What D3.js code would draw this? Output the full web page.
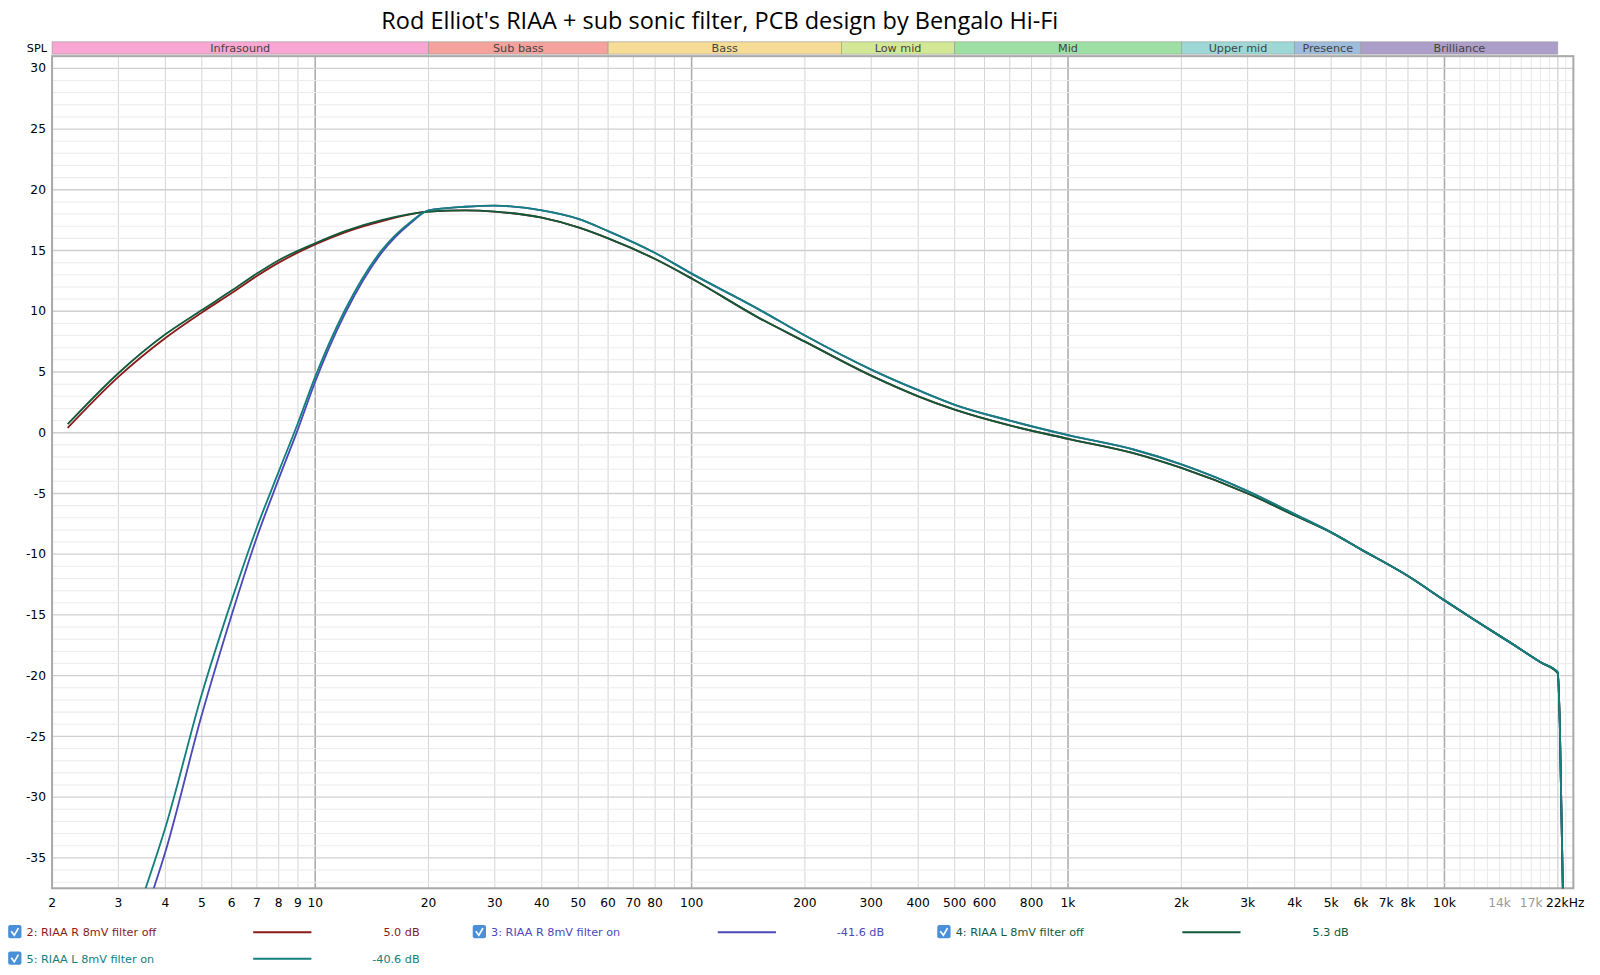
<!DOCTYPE html><html><head><meta charset="utf-8"><script src="https://d3js.org/d3.v7.min.js"></script>
<style>body{margin:0;background:#fff;font-family:"DejaVu Sans",sans-serif}</style></head><body><svg id="c" width="1600" height="975"></svg><script>
const title="Rod Elliot's RIAA + sub sonic filter, PCB design by Bengalo Hi-Fi";
const bandNames=["Infrasound","Sub bass","Bass","Low mid","Mid","Upper mid","Presence","Brilliance"];
const bandEdges=[2,20,60,250,500,2000,4000,6000,20000];
const bandColors=["#f9a6d2","#f6a29c","#f7dc98","#d2e894","#9ee0a4","#9ed8d6","#9ebcdc","#ac9ec8"];
const xTicks=[2,3,4,5,6,7,8,9,10,20,30,40,50,60,70,80,100,200,300,400,500,600,800,1000,2000,3000,4000,5000,6000,7000,8000,10000,14000,17000,22000];
const xTickLabels=["2","3","4","5","6","7","8","9","10","20","30","40","50","60","70","80","100","200","300","400","500","600","800","1k","2k","3k","4k","5k","6k","7k","8k","10k","14k","17k","22kHz"];
const yTicks=[30,25,20,15,10,5,0,-5,-10,-15,-20,-25,-30,-35];
const freqOff=[2.2,3,4,5,6,7,8,10,12,15,20,25,30,40,50,60,80,100,150,200,300,400,500,700,1000,1500,2000,3000,4000,5000,6000,8000,10000,12000,15000,18000,20000,20250,20700];
const redOff=[0.4,4.6,7.8,9.9,11.5,12.9,14.0,15.5,16.5,17.4,18.2,18.3,18.2,17.7,16.9,16.0,14.3,12.7,9.5,7.5,4.7,3.0,1.9,0.6,-0.5,-1.7,-2.9,-5.0,-6.8,-8.2,-9.6,-11.8,-13.8,-15.4,-17.3,-18.9,-19.8,-24,-40];
const greenOff=[0.7,4.9,8.1,10.1,11.7,13.1,14.2,15.6,16.6,17.5,18.2,18.3,18.2,17.7,16.9,16.0,14.3,12.7,9.5,7.5,4.7,3.0,1.9,0.6,-0.5,-1.7,-2.9,-5.0,-6.8,-8.2,-9.6,-11.8,-13.8,-15.4,-17.3,-18.9,-19.8,-24,-40];
const freqOn=[3.5,4,5,6,7,8,9,10,12,15,18,20,25,30,40,50,60,80,100,150,200,300,400,500,700,1000,1500,2000,3000,4000,5000,6000,8000,10000,12000,15000,18000,20000,20250,20700];
const tealOn=[-38,-32.5,-21.5,-13.8,-7.8,-3.2,0.8,4.6,10.1,15.0,17.4,18.3,18.6,18.7,18.3,17.6,16.6,14.8,13.1,10.2,8.0,5.2,3.5,2.3,1.0,-0.2,-1.4,-2.6,-4.8,-6.7,-8.2,-9.6,-11.8,-13.8,-15.4,-17.3,-18.9,-19.7,-24,-40];
const blueOn=[-40,-34.5,-23.2,-15,-8.6,-3.8,0.3,4.2,9.8,14.8,17.3,18.3,18.6,18.7,18.3,17.6,16.6,14.8,13.1,10.2,8.0,5.2,3.5,2.3,1.0,-0.2,-1.4,-2.6,-4.8,-6.7,-8.2,-9.6,-11.8,-13.8,-15.4,-17.3,-18.9,-19.7,-24,-40];
const series=[
 {name:"2: RIAA R 8mV filter off",val:"5.0 dB",color:"#8b1a1a",f:freqOff,v:redOff},
 {name:"3: RIAA R 8mV filter on",val:"-41.6 dB",color:"#4a4ab8",f:freqOn,v:blueOn},
 {name:"4: RIAA L 8mV filter off",val:"5.3 dB",color:"#0f5a3a",f:freqOff,v:greenOff},
 {name:"5: RIAA L 8mV filter on",val:"-40.6 dB",color:"#13807e",f:freqOn,v:tealOn}];
const svg=d3.select("#c").append("g").attr("transform","scale(1.021)");
const L=51,R=1541,T=55,B=870;
const x=d3.scaleLog().domain([2,22000]).range([L,R]);
const y=d3.scaleLinear().domain([31,-37.5]).range([T,B]);
svg.append("text").attr("x",705).attr("y",28).attr("text-anchor","middle").attr("font-size",23).attr("font-family","Open Sans, sans-serif").text(title);
svg.append("text").attr("x",46).attr("y",51).attr("text-anchor","end").attr("font-size",11).text("SPL");
bandNames.forEach((n,i)=>{const x0=x(bandEdges[i]),x1=x(bandEdges[i+1]);
 svg.append("rect").attr("x",x0).attr("y",41).attr("width",x1-x0).attr("height",12).attr("fill",bandColors[i]).attr("stroke","#999").attr("stroke-width",0.6);
 svg.append("text").attr("x",(x0+x1)/2).attr("y",51).attr("text-anchor","middle").attr("font-size",11).attr("fill","#444").text(n);});
const g=svg.append("g");
const minor=[];for(let d=1;d<=10000;d*=10)for(let k=1;k<10;k++){const f=d*k;if(f>=2&&f<=22000)minor.push(f);}
minor.push(20000);
minor.forEach(f=>{const major=[10,100,1000,10000].includes(f);g.append("line").attr("x1",x(f)).attr("x2",x(f)).attr("y1",T).attr("y2",B).attr("stroke",major?"#aaa":"#d6d6d6").attr("stroke-width",major?1.5:1);});
[11000,12000,13000,14000,15000,16000,17000,18000,19000,21000].forEach(f=>g.append("line").attr("x1",x(f)).attr("x2",x(f)).attr("y1",T).attr("y2",B).attr("stroke","#e8e8e8"));
for(let v=-37;v<=31;v++){g.append("line").attr("x1",L).attr("x2",R).attr("y1",y(v)).attr("y2",y(v)).attr("stroke",v%5===0?"#d0d0d0":"#ececec").attr("stroke-width",v%5===0?1.3:1);}
g.append("rect").attr("x",L).attr("y",T).attr("width",R-L).attr("height",B-T).attr("fill","none").attr("stroke","#aaa").attr("stroke-width",2);
yTicks.forEach(v=>svg.append("text").attr("x",45).attr("y",y(v)+4).attr("text-anchor","end").attr("font-size",12).text(v));
xTicks.forEach((f,i)=>svg.append("text").attr("x",i===xTicks.length-1?x(f)-8:x(f)).attr("y",888).attr("text-anchor","middle").attr("font-size",12).attr("fill",(f===14000||f===17000)?"#999":"#000").text(xTickLabels[i]));
svg.append("clipPath").attr("id","cl").append("rect").attr("x",L).attr("y",T).attr("width",R-L).attr("height",B-T);
const line=d3.line().x(d=>x(d[0])).y(d=>y(d[1])).curve(d3.curveMonotoneX);
series.forEach(s=>svg.append("path").attr("clip-path","url(#cl)").attr("d",line(s.f.map((f,i)=>[f,s.v[i]]))).attr("fill","none").attr("stroke",s.color).attr("stroke-width",1.8));
series.forEach((s,i)=>{const cx=[8,463,918,8][i],cy=[913,913,913,939][i];
 const lg=svg.append("g").attr("transform",`translate(${cx},${cy})`);
 lg.append("rect").attr("x",0).attr("y",-7).attr("width",13).attr("height",13).attr("rx",2).attr("fill","#4a90d9");
 lg.append("path").attr("d","M3,-1 L6,3 L10,-4").attr("stroke","#fff").attr("stroke-width",1.6).attr("fill","none");
 lg.append("text").attr("x",18).attr("y",4).attr("font-size",11).attr("fill",s.color).text(s.name);
 lg.append("line").attr("x1",240).attr("x2",297).attr("y1",0).attr("y2",0).attr("stroke",s.color).attr("stroke-width",2);
 lg.append("text").attr("x",403).attr("y",4).attr("text-anchor","end").attr("font-size",11).attr("fill",s.color).text(s.val);});
</script></body></html>
